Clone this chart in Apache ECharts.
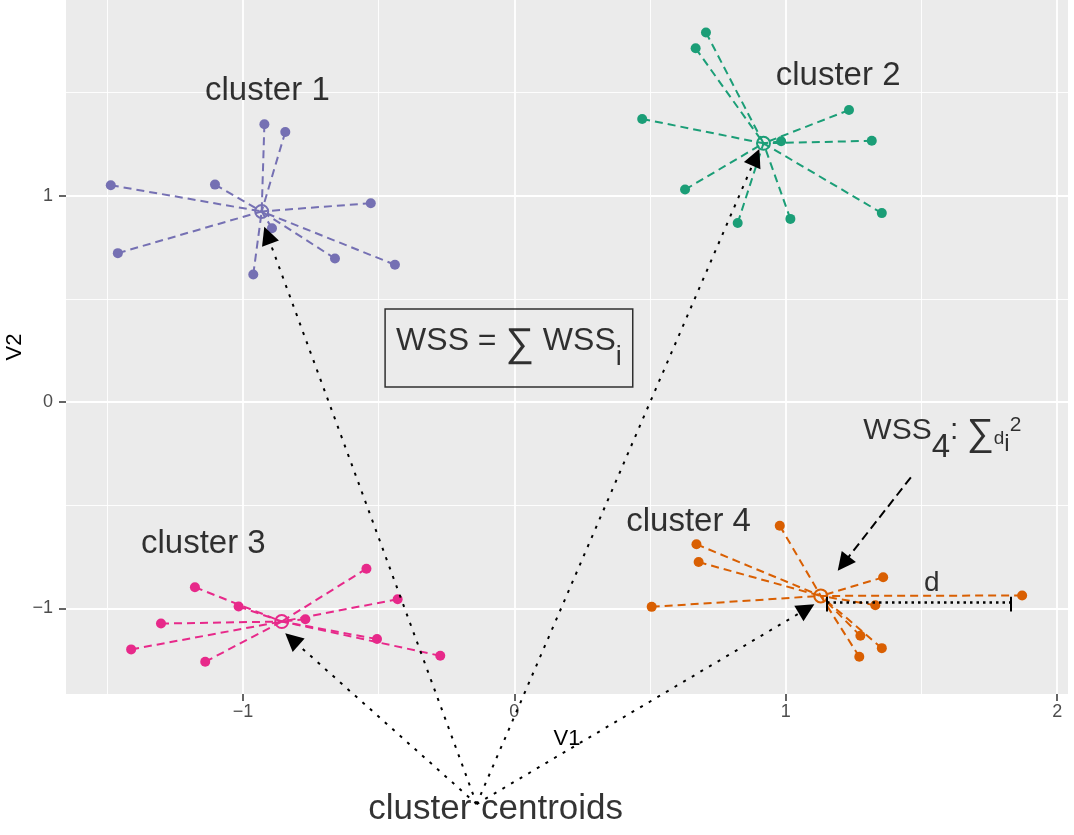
<!DOCTYPE html>
<html>
<head>
<meta charset="utf-8">
<script src="https://cdn.jsdelivr.net/npm/echarts@6/dist/echarts.min.js"></script>
<style>
  html, body { margin: 0; padding: 0; background: #fff; }
  #chart { width: 1074px; height: 835px; }
</style>
</head>
<body>
<div id="chart"></div>
<script>
const clusterNames = ["cluster 1", "cluster 2", "cluster 3", "cluster 4"];
const clusterColors = ["#7570B3", "#1B9E77", "#E7298A", "#D95F02"];

const centroids = [[-0.931, 0.923], [0.918, 1.253], [-0.857, -1.063], [1.129, -0.939]];

const cluster1 = [
  [-0.921, 1.345], [-0.844, 1.308], [-1.487, 1.050], [-1.103, 1.053], [-0.529, 0.963],
  [-1.461, 0.721], [-0.893, 0.842], [-0.661, 0.695], [-0.440, 0.665], [-0.962, 0.618],
];
const cluster2 = [
  [0.706, 1.790], [0.668, 1.713], [0.471, 1.371], [1.233, 1.414], [1.317, 1.265],
  [0.983, 1.263], [0.629, 1.029], [1.354, 0.915], [0.823, 0.867], [1.017, 0.887],
];
const cluster3 = [
  [-0.545, -0.807], [-1.177, -0.897], [-1.016, -0.990], [-0.430, -0.955], [-0.770, -1.052],
  [-1.302, -1.073], [-0.506, -1.148], [-1.412, -1.198], [-1.139, -1.258], [-0.273, -1.229],
];
const cluster4 = [
  [0.978, -0.599], [0.671, -0.689], [0.679, -0.775], [1.359, -0.849], [1.871, -0.937],
  [0.506, -0.992], [1.330, -0.984], [1.275, -1.132], [1.354, -1.192], [1.271, -1.234],
];

const xTicks = [-1, 0, 1, 2];
const yTicks = [-1, 0, 1];
const xMinor = [-1.5, -0.5, 0.5, 1.5];
const yMinor = [-0.5, 0.5, 1.5];

// annotation anchors (data units)
const arrowOrigin = [-0.139, -1.947];
const arrowTargets = [[-0.910, 0.808], [0.8895, 1.185], [-0.8195, -1.149], [1.077, -1.002]];
const wssArrow = [[1.461, -0.365], [1.212, -0.7826]];
const dSegment = [[1.152, -0.972], [1.829, -0.972]];
const dCaps = [[[1.152, -0.943], [1.152, -1.015]], [[1.829, -0.943], [1.829, -1.015]]];
const clusterLabelPos = [[-0.910, 1.505], [1.193, 1.579], [-1.146, -0.689], [0.642, -0.581]];
const centroidLabelPos = [-0.069, -1.971];
const dLabelPos = [1.538, -0.877];
const wssBoxPos = [-0.020, 0.262];
const wss4Pos = [1.577, -0.137];

const font = "'Liberation Sans', Arial, Helvetica, sans-serif";
const xMin = -1.652, xMax = 2.040, yMin = -1.414, yMax = 1.947;

const fmt = (v) => (v < 0 ? "\u2212" + Math.abs(v) : String(v));

const chart = echarts.init(document.getElementById("chart"));

const series = [];
[cluster1, cluster2, cluster3, cluster4].forEach((pts, i) => {
  series.push({
    type: "lines",
    coordinateSystem: "cartesian2d",
    silent: true,
    z: 3,
    lineStyle: { color: clusterColors[i], width: 2, type: [8, 5], opacity: 1 },
    data: pts.map((p) => ({ coords: [p, centroids[i]] })),
  });
  series.push({
    type: "scatter",
    silent: true,
    z: 4,
    symbolSize: 10,
    itemStyle: { color: clusterColors[i], opacity: 1 },
    data: pts,
  });
  series.push({
    type: "scatter",
    silent: true,
    z: 5,
    symbolSize: 13,
    itemStyle: { color: "rgba(0,0,0,0)", borderColor: clusterColors[i], borderWidth: 2, opacity: 1 },
    data: [centroids[i]],
  });
});

// dotted arrows to the centroids
series.push({
  type: "lines",
  coordinateSystem: "cartesian2d",
  clip: false,
  silent: true,
  z: 6,
  symbol: ["none", "triangle"],
  symbolSize: [14, 18],
  lineStyle: { color: "#000", width: 2, type: [3, 7], opacity: 1 },
  data: arrowTargets.map((t) => ({ coords: [arrowOrigin, t] })),
});

// dashed arrow from WSS4 label
series.push({
  type: "lines",
  coordinateSystem: "cartesian2d",
  clip: false,
  silent: true,
  z: 6,
  symbol: ["none", "triangle"],
  symbolSize: [14, 18],
  lineStyle: { color: "#000", width: 2, type: [9, 5], opacity: 1 },
  data: [{ coords: wssArrow }],
});

// distance d
series.push({
  type: "lines",
  coordinateSystem: "cartesian2d",
  silent: true,
  z: 6,
  lineStyle: { color: "#000", width: 2.5, type: [2.5, 4], opacity: 1 },
  data: [{ coords: dSegment }],
});
series.push({
  type: "lines",
  coordinateSystem: "cartesian2d",
  silent: true,
  z: 6,
  lineStyle: { color: "#000", width: 2, opacity: 1 },
  data: dCaps.map((c) => ({ coords: c })),
});

// text annotations
const txt = (size) => ({ fontSize: size, fontFamily: font, color: "#000", textBorderWidth: 0 });
const textItems = clusterNames.map((name, i) => ({
  value: clusterLabelPos[i],
  label: Object.assign({ formatter: name }, txt(33)),
}));
textItems.push({ value: centroidLabelPos, label: Object.assign({ formatter: "cluster centroids" }, txt(35)) });
textItems.push({ value: dLabelPos, label: Object.assign({ formatter: "d" }, txt(28)) });
textItems.push({
  value: wssBoxPos,
  label: {
    formatter: () => "{m|WSS = }{g|\u2211}{m| WSS}{s|i}",
    borderColor: "#000",
    borderWidth: 1.5,
    padding: [12, 11, 26, 11],
    rich: {
      m: Object.assign({ lineHeight: 40 }, txt(32)),
      g: Object.assign({ lineHeight: 40, padding: [8, 0, 0, 0] }, txt(40)),
      s: Object.assign({ lineHeight: 40, padding: [33, 0, 0, 0] }, txt(27)),
    },
  },
});
textItems.push({
  value: wss4Pos,
  label: {
    formatter: () => "{m|WSS}{n|4}{m|: }{g|\u2211}{d|d}{i|i}{p|2}",
    rich: {
      m: Object.assign({ lineHeight: 40 }, txt(30)),
      g: Object.assign({ lineHeight: 40, padding: [8, 0, 0, 0] }, txt(38)),
      n: Object.assign({ lineHeight: 40, padding: [35, 0, 0, 0] }, txt(33)),
      d: Object.assign({ lineHeight: 40, padding: [16, 0, 0, 0] }, txt(19)),
      i: Object.assign({ lineHeight: 40, padding: [29, 0, 0, 0] }, txt(24)),
      p: Object.assign({ lineHeight: 40, padding: [0, 0, 11, 0] }, txt(21)),
    },
  },
});

series.push({
  type: "scatter",
  silent: true,
  clip: false,
  z: 10,
  symbolSize: 1,
  itemStyle: { color: "rgba(0,0,0,0)" },
  label: { show: true, position: "inside", color: "#000", fontFamily: font, textBorderWidth: 0 },
  data: textItems,
});

const axisName = { color: "#000", fontSize: 22, fontFamily: font };

chart.setOption({
  animation: false,
  backgroundColor: "#fff",
  grid: {
    left: 66, right: 6, top: 0, bottom: 141,
    outerBoundsMode: "none", containLabel: false,
    show: true, backgroundColor: "#EBEBEB", borderWidth: 0,
  },
  xAxis: [
    {
      type: "value", min: xMin, max: xMax, position: "bottom",
      axisLine: { show: false, onZero: false },
      axisTick: { show: true, customValues: xTicks, length: 7, lineStyle: { color: "#333", width: 1.5 } },
      axisLabel: { customValues: xTicks, formatter: fmt, color: "#4D4D4D", fontSize: 18, margin: 9, fontFamily: font },
      splitLine: { show: true, lineStyle: { color: "#fff", width: 1.8 } },
      name: "V1", nameLocation: "middle", nameGap: 34, nameMoveOverlap: false, nameTextStyle: axisName,
    },
    {
      type: "value", min: xMin, max: xMax, position: "top",
      axisLine: { show: false, onZero: false },
      axisTick: { show: false, customValues: xMinor },
      axisLabel: { show: false, customValues: xMinor },
      splitLine: { show: true, lineStyle: { color: "#fff", width: 0.9 } },
    },
  ],
  yAxis: [
    {
      type: "value", min: yMin, max: yMax, position: "left",
      axisLine: { show: false, onZero: false },
      axisTick: { show: true, customValues: yTicks, length: 7, lineStyle: { color: "#333", width: 1.5 } },
      axisLabel: { customValues: yTicks, formatter: fmt, color: "#4D4D4D", fontSize: 18, margin: 13, fontFamily: font },
      splitLine: { show: true, lineStyle: { color: "#fff", width: 1.8 } },
      name: "V2", nameLocation: "middle", nameGap: 40, nameRotate: 90, nameMoveOverlap: false, nameTextStyle: axisName,
    },
    {
      type: "value", min: yMin, max: yMax, position: "right",
      axisLine: { show: false, onZero: false },
      axisTick: { show: false, customValues: yMinor },
      axisLabel: { show: false, customValues: yMinor },
      splitLine: { show: true, lineStyle: { color: "#fff", width: 0.9 } },
    },
  ],
  series,
});
</script>
</body>
</html>
